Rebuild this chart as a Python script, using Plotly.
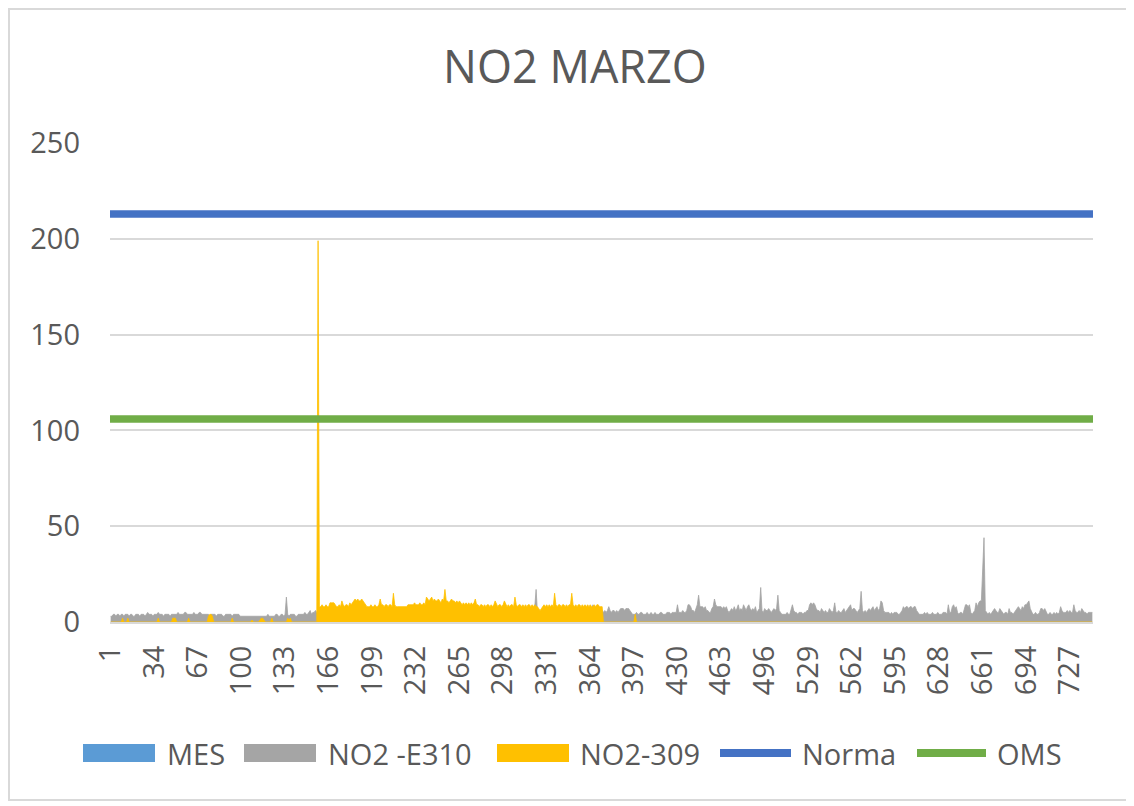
import plotly.graph_objects as go

# NO2 hourly concentrations, March (744 hours)
hours = list(range(1, 745))

no2_e310 = [
    3, 3, 4, 4, 3, 4, 4, 3, 4, 4, 3, 4, 4, 4, 3, 4, 4, 3, 3, 4, 4, 4, 3, 4,
    4, 4, 3, 4, 5, 4, 4, 4, 3, 4, 4, 4, 5, 4, 4, 4, 3, 4, 4, 4, 4, 3, 4, 4,
    4, 4, 4, 5, 4, 4, 4, 4, 5, 5, 4, 4, 4, 4, 4, 5, 4, 4, 4, 5, 5, 4, 4, 4,
    4, 4, 4, 3, 4, 4, 4, 4, 3, 4, 4, 4, 4, 3, 3, 4, 4, 4, 4, 4, 3, 4, 4, 4,
    4, 4, 3, 3, 3, 3, 3, 3, 3, 3, 3, 3, 3, 3, 3, 3, 3, 3, 3, 3, 3, 3, 3, 4,
    3, 3, 3, 3, 3, 4, 4, 3, 3, 4, 4, 3, 4, 13, 4, 3, 4, 4, 4, 4, 3, 3, 4, 4,
    4, 4, 4, 5, 4, 4, 5, 6, 4, 5, 5, 6, 5, 5, 4, 4, 5, 4, 4, 5, 4, 4, 5, 5,
    4, 5, 4, 4, 5, 5, 4, 4, 3, 4, 5, 4, 4, 5, 4, 4, 5, 5, 4, 4, 3, 4, 4, 5,
    5, 4, 4, 5, 4, 4, 5, 5, 4, 4, 4, 5, 4, 4, 5, 5, 4, 4, 4, 5, 5, 4, 4, 4,
    4, 5, 5, 4, 4, 4, 5, 4, 4, 5, 4, 4, 5, 5, 4, 4, 5, 4, 4, 4, 5, 5, 4, 4,
    5, 4, 4, 5, 5, 4, 4, 4, 5, 4, 4, 5, 4, 4, 4, 5, 5, 4, 4, 5, 4, 4, 4, 5,
    4, 4, 5, 5, 4, 4, 4, 5, 4, 4, 5, 4, 4, 5, 5, 4, 4, 4, 5, 4, 4, 5, 4, 4,
    5, 4, 4, 4, 5, 5, 4, 4, 5, 4, 4, 4, 5, 4, 4, 5, 5, 4, 4, 4, 5, 4, 4, 5,
    4, 5, 4, 4, 5, 4, 5, 6, 7, 8, 17, 5, 4, 4, 5, 4, 4, 5, 4, 4, 5, 4, 4, 5,
    4, 4, 5, 4, 4, 5, 5, 4, 4, 5, 4, 4, 5, 4, 4, 5, 5, 4, 4, 5, 4, 4, 5, 5,
    5, 4, 5, 5, 6, 9, 6, 5, 5, 6, 6, 7, 6, 5, 6, 5, 6, 8, 6, 5, 6, 6, 5, 6,
    5, 6, 7, 7, 7, 6, 7, 7, 7, 6, 5, 4, 4, 4, 5, 4, 4, 5, 5, 4, 4, 4, 5, 4,
    4, 5, 4, 4, 5, 4, 4, 4, 5, 5, 4, 4, 4, 5, 5, 5, 4, 5, 5, 5, 5, 9, 5, 5,
    5, 6, 5, 5, 6, 9, 9, 8, 6, 6, 5, 7, 9, 14, 8, 8, 8, 7, 8, 6, 6, 5, 5, 7,
    8, 12, 9, 8, 8, 8, 8, 7, 8, 7, 8, 6, 5, 6, 7, 6, 8, 6, 7, 9, 6, 7, 6, 9,
    7, 6, 8, 9, 7, 6, 7, 6, 8, 5, 6, 7, 18, 6, 5, 7, 6, 6, 7, 6, 5, 6, 7, 6,
    7, 14, 6, 5, 4, 4, 4, 4, 5, 4, 4, 6, 9, 6, 5, 5, 4, 5, 5, 5, 4, 5, 5, 6,
    6, 9, 10, 9, 10, 9, 7, 6, 6, 5, 7, 6, 5, 6, 5, 5, 7, 6, 5, 6, 10, 5, 5, 6,
    5, 5, 6, 7, 5, 6, 7, 8, 9, 6, 7, 7, 6, 5, 6, 7, 16, 6, 5, 6, 5, 6, 7, 6,
    7, 8, 6, 7, 8, 6, 7, 11, 10, 6, 5, 5, 5, 5, 4, 5, 4, 5, 5, 5, 4, 4, 5, 6,
    8, 7, 8, 8, 7, 8, 8, 7, 8, 8, 6, 5, 4, 4, 4, 4, 5, 4, 5, 4, 4, 4, 5, 4,
    4, 4, 5, 4, 4, 4, 5, 5, 5, 4, 9, 5, 5, 8, 9, 7, 8, 5, 4, 5, 5, 4, 6, 9,
    9, 8, 9, 5, 4, 5, 6, 10, 8, 10, 11, 11, 33, 44, 6, 5, 4, 5, 4, 5, 6, 7, 6, 5,
    5, 7, 6, 5, 4, 5, 5, 4, 7, 5, 5, 4, 5, 6, 7, 8, 7, 6, 8, 7, 9, 9, 10, 11,
    7, 5, 4, 4, 5, 4, 4, 5, 7, 7, 6, 7, 5, 4, 4, 5, 4, 4, 5, 4, 5, 4, 5, 8,
    6, 5, 5, 5, 6, 5, 6, 5, 5, 9, 6, 5, 5, 6, 5, 7, 6, 5, 5, 4, 5, 5, 5, 5,
]

no2_309 = [
    0, 0, 0, 0, 0, 0, 0, 0, 0, 2, 0, 0, 0, 2, 0, 0, 0, 0, 0, 0, 0, 0, 0, 0,
    0, 0, 0, 0, 0, 0, 0, 0, 0, 0, 0, 0, 2, 0, 0, 0, 0, 0, 0, 0, 0, 0, 0, 2,
    2, 2, 0, 0, 0, 0, 0, 0, 0, 0, 0, 2, 0, 0, 0, 0, 0, 0, 0, 0, 0, 0, 0, 0,
    0, 0, 3, 4, 4, 3, 0, 0, 0, 0, 0, 0, 0, 0, 0, 0, 0, 0, 0, 0, 2, 0, 0, 0,
    0, 0, 0, 0, 0, 0, 0, 0, 0, 0, 0, 1, 0, 0, 0, 0, 0, 1, 2, 2, 1, 0, 0, 0,
    0, 0, 2, 0, 0, 0, 0, 0, 0, 0, 0, 0, 0, 0, 2, 1, 2, 0, 0, 0, 0, 0, 0, 0,
    0, 0, 0, 0, 0, 0, 0, 0, 0, 0, 0, 0, 0, 199, 8, 8, 9, 8, 8, 9, 8, 8, 10, 10,
    10, 10, 9, 8, 8, 9, 8, 11, 9, 8, 9, 9, 8, 10, 9, 10, 11, 12, 11, 12, 11, 11, 12, 11,
    10, 9, 8, 8, 8, 9, 8, 8, 9, 8, 8, 9, 12, 9, 9, 8, 9, 9, 8, 9, 9, 8, 15, 9,
    8, 8, 8, 8, 8, 8, 8, 8, 8, 9, 9, 9, 9, 9, 10, 9, 9, 9, 10, 9, 9, 10, 9, 13,
    12, 11, 12, 13, 11, 12, 11, 11, 12, 11, 10, 12, 11, 17, 11, 11, 10, 11, 12, 11, 11, 10, 11, 10,
    11, 10, 9, 10, 9, 10, 9, 10, 9, 10, 9, 10, 12, 9, 9, 8, 9, 9, 8, 9, 8, 9, 9, 8,
    9, 8, 9, 11, 9, 8, 9, 9, 8, 9, 11, 9, 8, 9, 8, 9, 9, 8, 13, 9, 8, 9, 9, 8,
    9, 8, 9, 8, 9, 9, 8, 9, 8, 9, 8, 8, 7, 6, 7, 8, 9, 8, 9, 8, 9, 8, 9, 8,
    15, 9, 8, 9, 9, 8, 9, 9, 8, 9, 8, 9, 9, 15, 9, 8, 9, 8, 9, 9, 8, 9, 8, 9,
    8, 9, 8, 9, 8, 8, 9, 8, 9, 9, 8, 8, 8, 0, 0, 0, 0, 0, 0, 0, 0, 0, 0, 0,
    0, 0, 0, 0, 0, 0, 0, 0, 0, 0, 0, 0, 0, 4, 0, 0, 0, 0, 0, 0, 0, 0, 0, 0,
] + [0] * 336

NORMA = 213
OMS = 106

tick_labels = list(range(1, 745, 33))

series_names = ["MES", "NO2 -E310", "NO2-309", "Norma", "OMS"]
series_colors = ["#5B9BD5", "#A5A5A5", "#FFC000", "#4472C4", "#70AD47"]

FONT = "Open Sans"
TXT = "#595959"
GRID = "#D9D9D9"

# plot area in figure pixels (page is shifted 8px by the body margin)
L, T, R, B = 102, 135, 1085, 614
W, H = R - L, B - T


def px(x):
    return (x - L) / W


def py(y):
    return (B - y) / H


fig = go.Figure()

fig.add_trace(go.Scatter(x=hours, y=no2_e310, name=series_names[1], mode="lines",
                         fill="tozeroy", fillcolor=series_colors[1],
                         line=dict(color=series_colors[1], width=0.8)))
fig.add_trace(go.Scatter(x=hours, y=no2_309, name=series_names[2], mode="lines",
                         fill="tozeroy", fillcolor=series_colors[2],
                         line=dict(color=series_colors[2], width=0.8)))
fig.add_trace(go.Scatter(x=[hours[0] - 0.5, hours[-1] + 0.5], y=[NORMA, NORMA],
                         name=series_names[3], mode="lines",
                         line=dict(color=series_colors[3], width=7.5)))
fig.add_trace(go.Scatter(x=[hours[0] - 0.5, hours[-1] + 0.5], y=[OMS, OMS],
                         name=series_names[4], mode="lines",
                         line=dict(color=series_colors[4], width=7.5)))

# legend drawn by hand, Excel style: wide boxes for areas, thick lines for lines
shapes = [dict(type="rect", xref="paper", yref="paper",
               x0=px(1), x1=px(1119), y0=py(792), y1=py(1),
               line=dict(color=GRID, width=2), fillcolor="rgba(0,0,0,0)", layer="below")]
annotations = []
leg_y = 745
leg_items = [(75, 147, 157), (236, 308, 318), (489, 561, 570), (708, 787, 792), (905, 982, 987)]
for i, (x0, x1, xt) in enumerate(leg_items):
    if i < 3:
        shapes.append(dict(type="rect", xref="paper", yref="paper",
                           x0=px(x0), x1=px(x1), y0=py(leg_y + 9), y1=py(leg_y - 9),
                           fillcolor=series_colors[i], line=dict(width=0)))
    else:
        shapes.append(dict(type="line", xref="paper", yref="paper",
                           x0=px(x0 + 4), x1=px(x1 - 4), y0=py(leg_y), y1=py(leg_y),
                           line=dict(color=series_colors[i], width=8)))
    annotations.append(dict(text=series_names[i], xref="paper", yref="paper",
                            x=px(xt), y=py(leg_y), xanchor="left", yanchor="middle",
                            showarrow=False, font=dict(size=29, color=TXT)))

fig.update_layout(
    width=1134, height=806,
    margin=dict(l=L, r=1134 - R, t=T, b=806 - B),
    paper_bgcolor="white", plot_bgcolor="white",
    font=dict(family=FONT, color=TXT, size=29),
    title=dict(text="NO2 MARZO", x=0.5, xanchor="center", y=1 - 59 / 806, yanchor="middle",
               font=dict(family=FONT, size=45, color=TXT)),
    showlegend=False,
    xaxis=dict(range=[0.5, 744.5], tickmode="array", tickvals=tick_labels,
               ticktext=[str(t) for t in tick_labels], tickangle=-90,
               showgrid=False, zeroline=False, showline=True, linecolor=GRID, linewidth=2,
               ticks="", ticklabelstandoff=10, tickfont=dict(size=29, color=TXT)),
    yaxis=dict(range=[0, 250], dtick=50, showgrid=True, gridcolor=GRID, gridwidth=2,
               zeroline=False, showline=False, ticks="", ticklabelstandoff=29,
               tickfont=dict(size=29, color=TXT)),
    shapes=shapes,
    annotations=annotations,
)

fig.write_html("out.html")
